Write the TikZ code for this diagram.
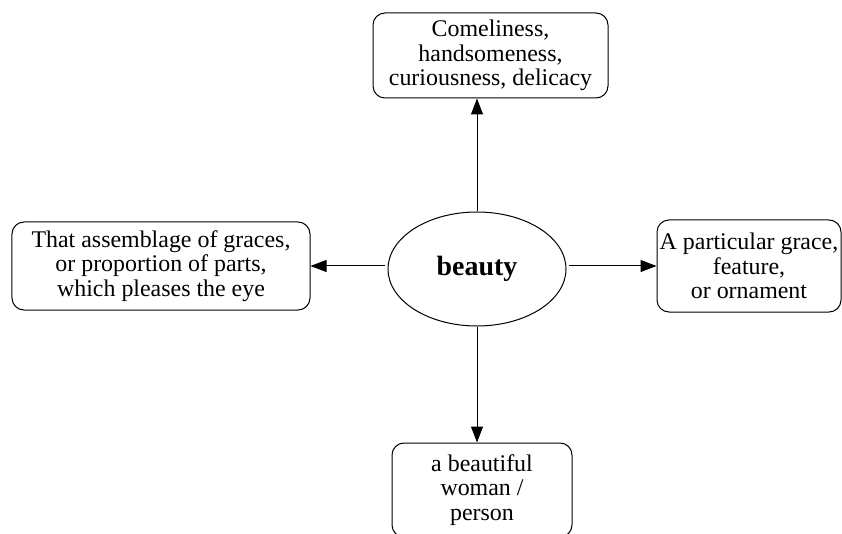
\documentclass[tikz,border=0pt]{standalone}
\usepackage{fontspec}
\setmainfont{Liberation Serif}
\usetikzlibrary{arrows.meta,shapes.geometric}

\begin{document}
\begin{tikzpicture}[x=1bp,y=-1bp,line width=1bp,
    sense/.style={draw,rounded corners=12bp,align=center,inner sep=2bp,
      font=\fontsize{24}{24.5}\selectfont},
    arr/.style={-{Triangle[length=16bp,width=12bp]}}]
  \clip (0,0) rectangle (842,534);
  \node[draw,ellipse,minimum width=178bp,minimum height=114bp,
    font=\fontsize{28}{30}\selectfont\bfseries] (beauty) at (477,269) {beauty};
  \node[sense,minimum width=235bp,minimum height=85bp] (top) at (490.5,55.5)
    {Comeliness,\\handsomeness,\\curiousness, delicacy};
  \node[sense,minimum width=298bp,minimum height=88bp] (left) at (161,266)
    {That assemblage of graces,\\or proportion of parts,\\which pleases the eye};
  \node[sense,minimum width=184bp,minimum height=92bp] (right) at (749,266)
    {A particular grace,\\feature,\\or ornament};
  \node[sense,minimum width=180bp,minimum height=94bp] (bottom) at (482,490)
    {a beautiful\\woman /\\person};
  \draw[arr] (beauty.north) -- (beauty.north |- top.south);
  \draw[arr] (beauty.south) -- (beauty.south |- bottom.north);
  \draw[arr] ([xshift=-3bp]beauty.west |- left.east) -- (left.east);
  \draw[arr] ([xshift=2bp]beauty.east |- right.west) -- (right.west);
\end{tikzpicture}
\end{document}
